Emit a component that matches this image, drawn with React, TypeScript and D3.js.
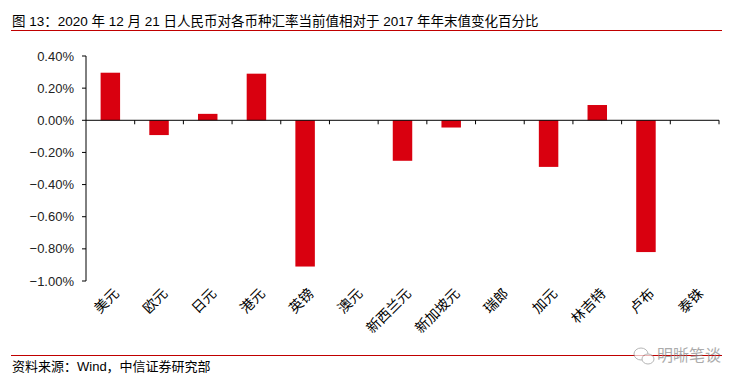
import { useEffect, useRef } from 'react';
import * as d3 from 'd3';

const currencies = ['美元', '欧元', '日元', '港元', '英镑', '澳元', '新西兰元', '新加坡元', '瑞郎', '加元', '林吉特', '卢布', '泰铢'];
const changes = [0.296, -0.092, 0.04, 0.29, -0.91, 0, -0.252, -0.045, 0, -0.29, 0.095, -0.82, 0];
const yTicks = [0.4, 0.2, 0, -0.2, -0.4, -0.6, -0.8, -1.0];

const title = '图 13：2020 年 12 月 21 日人民币对各币种汇率当前值相对于 2017 年年末值变化百分比';
const source = '资料来源：Wind，中信证券研究部';

export default function App() {
  const svgRef = useRef<SVGSVGElement>(null);

  useEffect(() => {
    if (!svgRef.current) return;
    const width = 749;
    const height = 389;
    const font = '"Liberation Sans", Arial, "Noto Sans CJK SC", sans-serif';

    const svg = d3.select(svgRef.current);
    svg.selectAll('*').remove();
    svg.attr('width', width).attr('height', height)
      .style('display', 'block').style('position', 'absolute').style('left', '0px').style('top', '0px');

    svg.append('rect').attr('width', width).attr('height', height).attr('fill', '#fff');

    // title + red rule
    svg.append('text')
      .attr('x', 12).attr('y', 26)
      .style('font-family', font).style('font-size', '13.5px').style('fill', '#000')
      .text(title);
    svg.append('line').attr('x1', 11).attr('x2', 722).attr('y1', 30.5).attr('y2', 30.5)
      .attr('stroke', '#c00000').attr('stroke-width', 1.2);

    const x = d3.scaleBand<string>().domain(currencies).range([86, 719]).paddingInner(0.6).paddingOuter(0.3);
    const xOuter = d3.scaleBand<string>().domain(currencies).range([86, 719]);
    const y = d3.scaleLinear().domain([-1.0, 0.4]).range([281, 56]);

    // bars
    svg.append('g')
      .selectAll('rect')
      .data(currencies)
      .join('rect')
      .attr('x', d => x(d)!)
      .attr('width', x.bandwidth())
      .attr('y', (d, i) => y(Math.max(0, changes[i])))
      .attr('height', (d, i) => Math.abs(y(changes[i]) - y(0)))
      .attr('fill', '#d9000f');

    // y axis
    const yAxis = svg.append('g').attr('transform', 'translate(86,0)');
    yAxis.append('line').attr('x1', 0).attr('x2', 0).attr('y1', y(0.4)).attr('y2', y(-1.0))
      .attr('stroke', '#000').attr('stroke-width', 1);
    yAxis.selectAll('line.tick').data(yTicks).join('line')
      .attr('class', 'tick')
      .attr('x1', -4).attr('x2', 0)
      .attr('y1', d => y(d)).attr('y2', d => y(d))
      .attr('stroke', '#000');
    yAxis.selectAll('text').data(yTicks).join('text')
      .attr('x', -12).attr('y', d => y(d)).attr('dy', '0.35em')
      .attr('text-anchor', 'end')
      .style('font-family', font).style('font-size', '13px').style('fill', '#222')
      .text(d => d3.format('.2f')(d) + '%');

    // zero line and category ticks
    svg.append('line').attr('x1', 86).attr('x2', 719).attr('y1', y(0)).attr('y2', y(0))
      .attr('stroke', '#000').attr('stroke-width', 1);
    svg.append('g').selectAll('line').data(currencies.slice(1).concat(['end'])).join('line')
      .attr('x1', (d, i) => 86 + (i + 1) * xOuter.step())
      .attr('x2', (d, i) => 86 + (i + 1) * xOuter.step())
      .attr('y1', y(0)).attr('y2', y(0) + 4)
      .attr('stroke', '#000');

    // category labels
    svg.append('g').selectAll('text').data(currencies).join('text')
      .attr('transform', d => `translate(${xOuter(d)! + xOuter.bandwidth() / 2 + 6},${291}) rotate(-45)`)
      .attr('text-anchor', 'end')
      .attr('dy', '0.35em')
      .style('font-family', font).style('font-size', '14px').style('fill', '#000')
      .text(d => d);

    // footer
    svg.append('line').attr('x1', 11).attr('x2', 722).attr('y1', 355.5).attr('y2', 355.5)
      .attr('stroke', '#c00000').attr('stroke-width', 1.2);
    svg.append('text')
      .attr('x', 12).attr('y', 371)
      .style('font-family', font).style('font-size', '13px').style('fill', '#000')
      .text(source);

    // watermark
    const wm = svg.append('g').attr('transform', 'translate(641,355)').style('opacity', 0.7);
    wm.append('ellipse').attr('cx', 0).attr('cy', -1).attr('rx', 7).attr('ry', 6)
      .attr('fill', '#fff').attr('stroke', '#999').attr('stroke-width', 1);
    wm.append('ellipse').attr('cx', 7).attr('cy', 4).attr('rx', 6).attr('ry', 5)
      .attr('fill', '#fff').attr('stroke', '#999').attr('stroke-width', 1);
    wm.append('text').attr('x', 16).attr('y', 6)
      .style('font-family', font).style('font-size', '16px').style('fill', '#888')
      .text('明晰笔谈');
  }, []);

  return <svg ref={svgRef} />;
}
